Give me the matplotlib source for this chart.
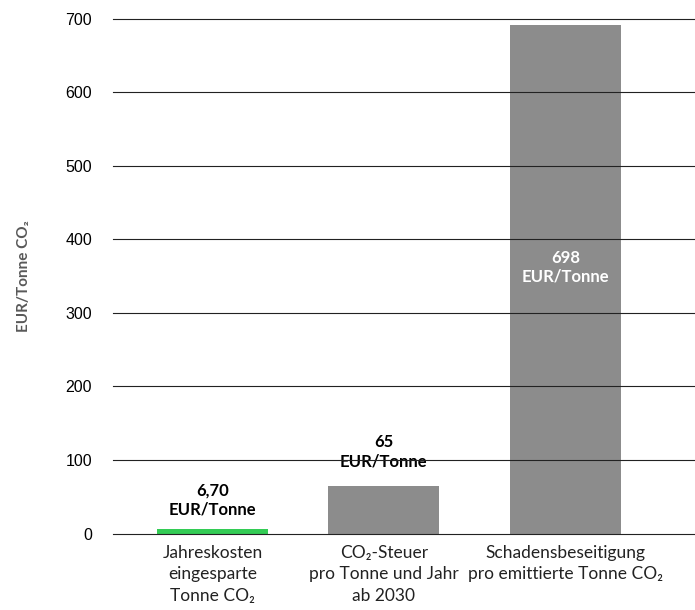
import matplotlib.pyplot as plt
import numpy as np

categories = [
    "Jahreskosten\neingesparte\nTonne CO\u2082",
    "CO\u2082-Steuer\npro Tonne und Jahr\nab 2030",
    "Schadensbeseitigung\npro emittierte Tonne CO\u2082",
]
# bar heights as drawn in the picture; label text as printed
values = [6.7, 65, 692]
value_labels = ["6,70\nEUR/Tonne", "65\nEUR/Tonne", "698\nEUR/Tonne"]
bar_colors = ["#33CC55", "#8C8C8C", "#8C8C8C"]
yticks = [0, 100, 200, 300, 400, 500, 600, 700]

label_font = ["Lato", "DejaVu Sans"]

fig = plt.figure(figsize=(6.95, 6.10), dpi=100)
ax = fig.add_axes([0.1626, 0.1254, 0.8374, 0.8435])

# middle category sits a little left of the even spacing in the original
x = np.arange(len(categories)) - np.array([0, 0.03, 0])
ax.bar(x, values, width=0.63, color=bar_colors, zorder=1)

ax.set_xlim(-0.565, 2.735)
ax.set_ylim(0, 700)
ax.set_yticks(yticks)
ax.set_yticklabels([str(t) for t in yticks], family="Liberation Sans", fontsize=11.5)
ax.tick_params(axis="y", length=0, pad=15)
ax.tick_params(axis="x", length=0, pad=8)
ax.set_xticks(x)
ax.set_xticklabels(categories, family=label_font, fontsize=12.5,
                   color="#222222", linespacing=1.45)

# grid lines sit on top of bars and labels, like the original
ax.set_axisbelow(False)
ax.yaxis.grid(True, color="#222222", linewidth=0.8)
for gl in ax.get_ygridlines():
    gl.set_clip_on(False)
for s in ax.spines.values():
    s.set_visible(False)

ax.set_ylabel("EUR/Tonne CO\u2082", family=label_font, fontsize=11,
              fontweight="bold", color="#595959", labelpad=25)

ax.annotate(value_labels[0], (x[0], values[0]), xytext=(0, 8),
            textcoords="offset points", ha="center", va="bottom",
            family=label_font, fontsize=12, fontweight="bold",
            linespacing=1.2, zorder=2)
ax.annotate(value_labels[1], (x[1], values[1]), xytext=(0, 12),
            textcoords="offset points", ha="center", va="bottom",
            family=label_font, fontsize=12, fontweight="bold",
            linespacing=1.2, zorder=2)
ax.text(x[2], values[2] * 0.523, value_labels[2], ha="center", va="center",
        family=label_font, fontsize=12, fontweight="bold", color="white",
        linespacing=1.2, zorder=2)

plt.savefig("out.png", dpi=100)
plt.close()
